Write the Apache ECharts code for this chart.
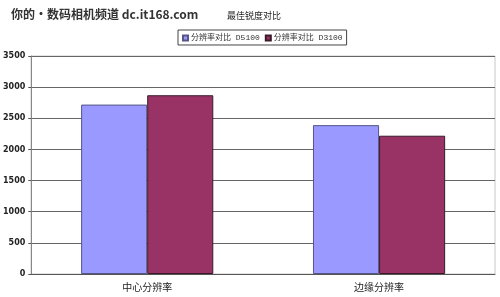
<!DOCTYPE html>
<html><head><meta charset="utf-8">
<style>html,body{margin:0;padding:0;background:#fff}#c{width:500px;height:297px}</style>
<script src="https://cdn.jsdelivr.net/npm/echarts@6/dist/echarts.min.js"></script>
</head><body><div id="c"></div>
<script>
var categories = ['中心分辨率', '边缘分辨率'];
var seriesNames = ['分辨率对比 D5100', '分辨率对比 D3100'];
var d5100 = [2720, 2390];
var d3100 = [2870, 2220];
var yTicks = [0, 500, 1000, 1500, 2000, 2500, 3000, 3500];

var chart = echarts.init(document.getElementById('c'));
chart.setOption({
  animation: false,
  backgroundColor: '#fff',
  graphic: [
    {type: 'text', left: 11, top: 8, style: {text: '你的·数码相机频道 dc.it168.com', font: 'bold 12px "Noto Sans CJK SC"', fill: '#333', stroke: '#fff'}},
    {type: 'rect', shape: {x: 31, y: 56, width: 464, height: 218}, style: {fill: 'none', stroke: '#c8c8c8', lineWidth: 1}, z: -1}
  ],
  title: {text: '最佳锐度对比', left: 222, top: 6, textStyle: {fontSize: 9, fontWeight: 'normal', color: '#222', fontFamily: 'Noto Sans CJK SC'}},
  legend: {
    data: seriesNames, left: 178, top: 30, itemWidth: 5, itemHeight: 5, itemGap: 5,
    padding: [4, 4, 3, 4], borderColor: '#444', borderWidth: 1, borderRadius: 0,
    textStyle: {fontSize: 8, color: '#333', fontFamily: '"Liberation Mono", "Noto Sans CJK SC"', padding: [0, 0, 0, -2]},
    icon: 'rect'
  },
  grid: {left: 31, right: 5, top: 56, bottom: 23, containLabel: false},
  xAxis: {
    type: 'category', data: categories,
    axisLine: {lineStyle: {color: '#555'}},
    axisTick: {inside: true, length: 3, lineStyle: {color: '#555'}},
    axisLabel: {fontSize: 10, color: '#222', margin: 8, fontFamily: 'Noto Sans CJK SC'}
  },
  yAxis: {
    type: 'value', min: 0, max: 3500, interval: 500,
    axisLine: {show: true, lineStyle: {color: '#888'}},
    axisTick: {show: true, length: 3, lineStyle: {color: '#555'}},
    axisLabel: {fontSize: 8, fontWeight: 'bold', color: '#222', margin: 6, fontFamily: 'DejaVu Sans',
      formatter: function (v) { return yTicks.indexOf(v) >= 0 ? String(v) : ''; }},
    splitLine: {lineStyle: {color: '#666', width: 1}}
  },
  series: [
    {name: seriesNames[0], type: 'bar', data: d5100, barGap: '0%', barCategoryGap: '43%',
      itemStyle: {color: '#9999ff', borderColor: '#555588', borderWidth: 1}},
    {name: seriesNames[1], type: 'bar', data: d3100,
      itemStyle: {color: '#993366', borderColor: '#3a1a2a', borderWidth: 1}}
  ]
});
</script></body></html>
